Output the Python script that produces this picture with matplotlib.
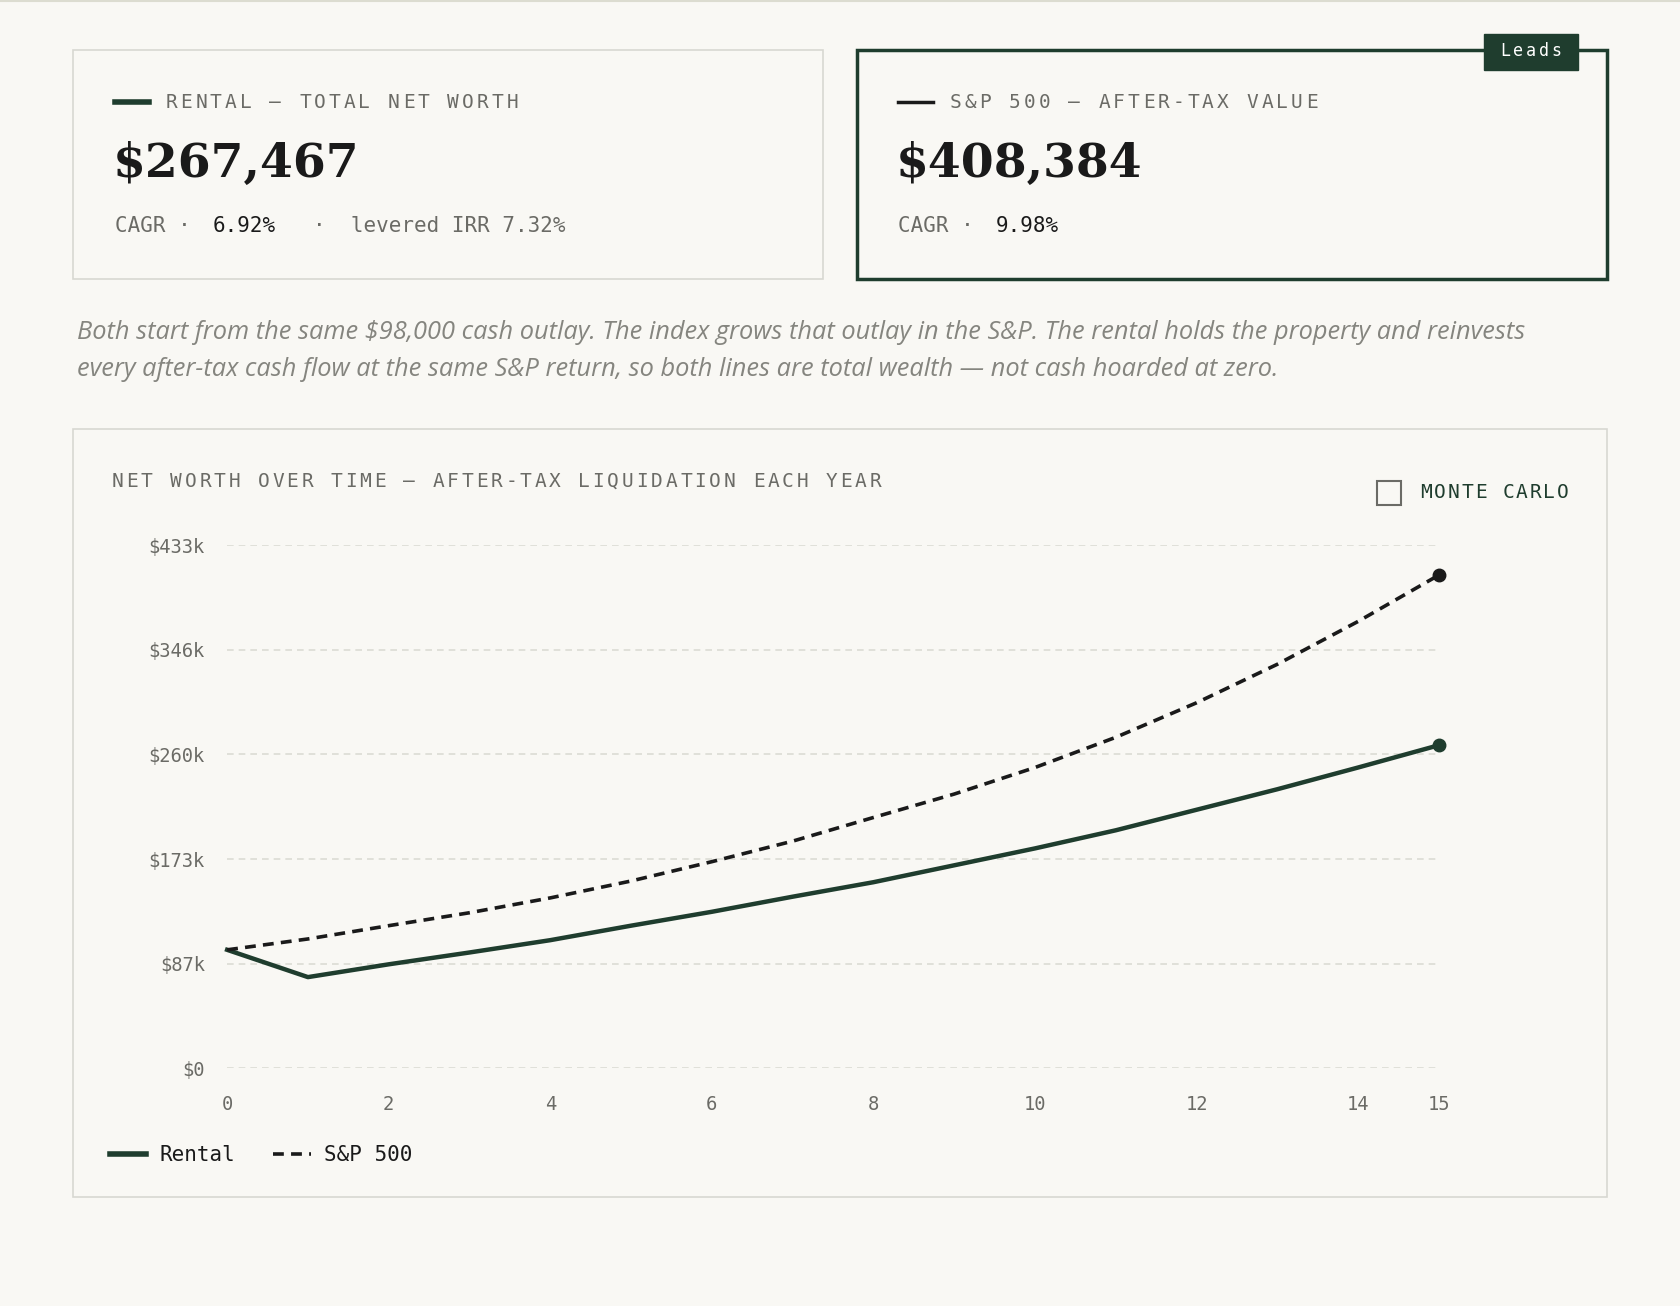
import matplotlib
matplotlib.use("Agg")
import matplotlib.pyplot as plt
from matplotlib.patches import Rectangle
from matplotlib.lines import Line2D

years = list(range(16))
rental = [98000, 75400, 86000, 95800, 106000, 118000, 129500, 142000, 154000,
          168000, 182000, 197000, 214000, 231000, 249000, 267467]
sp500 = [98000, 107000, 118000, 128700, 141000, 155000, 171000, 188000, 207600,
         227000, 249000, 274000, 302600, 334500, 370000, 408384]
xticks = [0, 2, 4, 6, 8, 10, 12, 14, 15]
yticks = [0, 86600, 173200, 259800, 346400, 433000]
ylabels = ["$0", "$87k", "$173k", "$260k", "$346k", "$433k"]

BG = "#f9f8f4"
GREEN = "#1f3d2e"
INK = "#1a1a1a"
GREY = "#6b6b66"
MONO = "DejaVu Sans Mono"
W, H = 1568, 1219

fig = plt.figure(figsize=(16.8, 13.06), dpi=100, facecolor=BG)


def fx(x):
    return x / W


def fy(y):
    return 1 - y / H


def box(x0, y0, x1, y1, color, lw):
    fig.patches.append(Rectangle((fx(x0), fy(y1)), fx(x1 - x0), fy(y0) - fy(y1),
                                 transform=fig.transFigure, fill=False,
                                 edgecolor=color, linewidth=lw))


def txt(x, y, s, **kw):
    fig.text(fx(x), fy(y), s, va="center", **kw)


def spaced(x, y, s, pitch, **kw):
    # letter-spaced caps, one glyph per fixed pitch
    for i, ch in enumerate(s):
        if ch != " ":
            fig.text(fx(x + i * pitch + pitch / 2), fy(y), ch, va="center",
                     ha="center", family=MONO, **kw)


# top rule
fig.add_artist(Line2D([0, 1], [fy(1), fy(1)], color="#dcdcd0", lw=1.5))

# cards
box(68, 47, 768, 260, "#d8d8d2", 1.2)
box(800, 47, 1500, 260, GREEN, 2.5)
fig.patches.append(Rectangle((fx(1385), fy(65)), fx(88), fy(32) - fy(65),
                             transform=fig.transFigure, color=GREEN))
spaced(1399, 48, "Leads", 12, color="white", fontsize=12)

fig.add_artist(Line2D([fx(107), fx(139)], [fy(95)] * 2, color=GREEN, lw=4))
spaced(153, 96, "RENTAL — TOTAL NET WORTH", 13.85, color=GREY, fontsize=14)
txt(105, 153, "$267,467", color=INK, family="DejaVu Serif", weight="bold", fontsize=34)
txt(107, 211, "CAGR · ", color=GREY, family=MONO, fontsize=15)
txt(198, 211, "6.92%", color=INK, family=MONO, fontsize=15)
txt(292, 211, "·  levered IRR 7.32%", color=GREY, family=MONO, fontsize=15)

fig.add_artist(Line2D([fx(838), fx(871)], [fy(95)] * 2, color=INK, lw=2.5))
spaced(885, 96, "S&P 500 — AFTER-TAX VALUE", 13.85, color=GREY, fontsize=14)
txt(836, 153, "$408,384", color=INK, family="DejaVu Serif", weight="bold", fontsize=34)
txt(838, 211, "CAGR · ", color=GREY, family=MONO, fontsize=15)
txt(929, 211, "9.98%", color=INK, family=MONO, fontsize=15)

txt(72, 310, "Both start from the same $98,000 cash outlay. The index grows that outlay in the S&P. "
    "The rental holds the property and reinvests", color="#85857f", family="Open Sans",
    style="italic", fontsize=18.3)
txt(72, 345, "every after-tax cash flow at the same S&P return, so both lines are total wealth "
    "— not cash hoarded at zero.", color="#85857f", family="Open Sans",
    style="italic", fontsize=18.3)

# chart card
box(68, 400, 1500, 1117, "#d8d8d2", 1.2)
spaced(103, 449, "NET WORTH OVER TIME — AFTER-TAX LIQUIDATION EACH YEAR", 13.6,
       color=GREY, fontsize=14)
fig.patches.append(Rectangle((fx(1285), fy(471)), fx(23), fy(449) - fy(471),
                             transform=fig.transFigure, fill=False, edgecolor=GREY, lw=1.5))
spaced(1325, 460, "MONTE CARLO", 12.7, color=GREEN, fontsize=14)

ax = fig.add_axes([fx(212), fy(997), fx(1343 - 212), fy(509) - fy(997)])
ax.set_facecolor(BG)
ax.set_xlim(0, 15)
ax.set_ylim(0, 433000)
for s in ax.spines.values():
    s.set_visible(False)
for t in yticks:
    ax.axhline(t, color="#dcdcd4", lw=1.2, ls=(0, (4, 3)), zorder=0)
ax.plot(years, rental, color=GREEN, lw=3.2, clip_on=False)
ax.plot(years, sp500, color=INK, lw=2.6, ls=(0, (3, 2)), clip_on=False)
ax.plot([15], [rental[-1]], "o", color=GREEN, ms=9, clip_on=False)
ax.plot([15], [sp500[-1]], "o", color=INK, ms=9, clip_on=False)
ax.set_xticks(xticks)
ax.set_yticks(yticks)
ax.set_yticklabels(ylabels)
ax.tick_params(length=0, labelsize=13.5, labelcolor=GREY)
ax.tick_params(axis="x", pad=19)
ax.tick_params(axis="y", pad=16)
for lab in ax.get_xticklabels() + ax.get_yticklabels():
    lab.set_family(MONO)

fig.add_artist(Line2D([fx(103), fx(136)], [fy(1077)] * 2, color=GREEN, lw=4))
txt(149, 1078, "Rental", color=INK, family=MONO, fontsize=15)
fig.add_artist(Line2D([fx(255), fx(290)], [fy(1077)] * 2, color=INK, lw=2.6, ls=(0, (3, 2))))
txt(302, 1078, "S&P 500", color=INK, family=MONO, fontsize=15)

fig.savefig("out.png", dpi=100, facecolor=BG)
